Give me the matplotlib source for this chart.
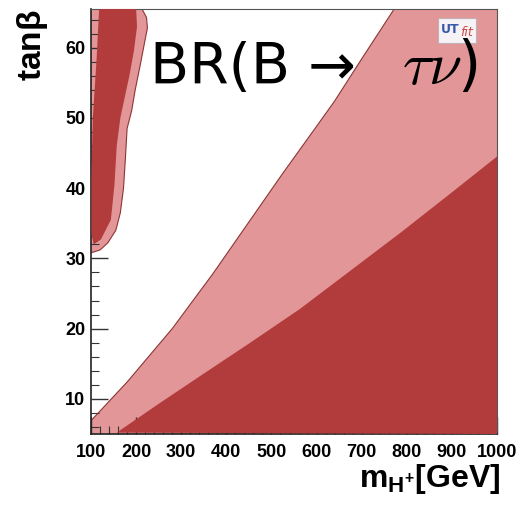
import matplotlib
matplotlib.use("Agg")
import matplotlib.pyplot as plt
from matplotlib.patches import Rectangle

plt.rcParams['mathtext.fontset'] = 'custom'
plt.rcParams['mathtext.rm'] = 'Liberation Sans:bold'
plt.rcParams['mathtext.bf'] = 'Liberation Sans:bold'
plt.rcParams['mathtext.it'] = 'Liberation Sans:bold'

# --- data (m_H+ in GeV, tan beta) ---
x_lim = (100, 1000)
y_lim = (5, 65.5)

# boundary white / light pink (main wedge)
outer_m = [100, 180, 280, 370, 448, 525, 600, 640, 702, 772]
outer_tb = [6.9, 12.4, 20.0, 27.8, 35.0, 42.1, 48.8, 52.4, 58.6, 65.5]

# boundary light pink / dark red (main wedge)
inner_m = [157, 250, 350, 453, 563, 674, 785, 896, 1000]
inner_tb = [5.2, 9.3, 13.6, 18.0, 22.8, 28.2, 33.6, 39.2, 44.5]

# top-left island, light pink outline
blob_out_m = [100, 120, 137, 155, 165, 172, 176, 180, 190, 198, 209, 218, 225, 223, 213, 100]
blob_out_tb = [30.8, 31.2, 32.2, 34.0, 36.5, 40.0, 44.0, 48.5, 51.0, 54.0, 57.5, 60.5, 62.8, 64.3, 65.5, 65.5]

# top-left island, dark red core
blob_in_m = [118, 112, 104, 101, 101, 106, 122, 144, 152, 157, 165, 175, 185, 195, 202, 200]
blob_in_tb = [65.5, 58.0, 50.0, 42.0, 33.5, 32.0, 32.7, 35.5, 40.5, 46.0, 50.0, 53.0, 56.0, 59.5, 63.0, 65.5]

x_ticks = [100, 200, 300, 400, 500, 600, 700, 800, 900, 1000]
y_ticks = [10, 20, 30, 40, 50, 60]

light = '#e39697'
dark = '#b23b3b'
edge = '#8c3535'

fig = plt.figure(figsize=(5.16, 5.09), dpi=100)
ax = fig.add_axes([0.1764, 0.1473, 0.7868, 0.835])

# light pink wedge
lx = outer_m + [x_lim[1], x_lim[1], x_lim[0]]
ly = outer_tb + [y_lim[1], y_lim[0], y_lim[0]]
ax.fill(lx, ly, color=light, lw=0, zorder=1)
ax.plot(outer_m, outer_tb, color=edge, lw=0.8, zorder=2)

# dark red wedge
dx = inner_m + [x_lim[1]]
dy = inner_tb + [y_lim[0]]
ax.fill(dx, dy, color=dark, lw=0, zorder=3)

# island
ax.fill(blob_out_m, blob_out_tb, color=light, lw=0, zorder=1)
ax.plot(blob_out_m[:-1], blob_out_tb[:-1], color=edge, lw=0.8, zorder=2)
ax.fill(blob_in_m, blob_in_tb, color=dark, lw=0, zorder=3)

ax.set_xlim(*x_lim)
ax.set_ylim(*y_lim)
ax.set_xticks(x_ticks)
ax.set_yticks(y_ticks)
ax.set_xticks(range(100, 1001, 20), minor=True)
ax.set_yticks(range(6, 66, 2), minor=True)
ax.tick_params(which='major', direction='in', length=12, width=1, color='#333333',
               labelsize=13, pad=4, top=False, right=False)
ax.tick_params(which='minor', direction='in', length=6, width=0.8, color='#333333',
               top=False, right=False)
ax.tick_params(axis='x', which='major', pad=7)
for lab in ax.get_xticklabels() + ax.get_yticklabels():
    lab.set_fontfamily('Liberation Sans')
    lab.set_fontweight('bold')
for s in ax.spines.values():
    s.set_color('#555555')
    s.set_linewidth(0.8)
for s in ['left', 'bottom']:
    ax.spines[s].set_color('#222222')
    ax.spines[s].set_linewidth(1.2)

fig.text(33 / 516, 1 - 10 / 509, r'tan$\beta$', rotation=90, ha='center', va='top',
         fontsize=24, fontweight='bold', family='Liberation Sans')
fig.text(500 / 516, 1 - 487 / 509, r'm$_{\mathrm{H^{+}}}$[GeV]', ha='right', va='baseline',
         fontsize=23, fontweight='bold', family='Liberation Sans')

# UTfit logo
ax.add_patch(Rectangle((0.855, 0.92), 0.093, 0.058, transform=ax.transAxes,
                       facecolor='#f6f2f6', edgecolor='#c0b0b8', lw=0.8, zorder=5))
ax.text(0.862, 0.951, 'UT', transform=ax.transAxes, color='#3a5aa8', fontsize=9,
        fontweight='bold', va='center', zorder=6)
ax.text(0.908, 0.945, 'fit', transform=ax.transAxes, color='#d04848', fontsize=9,
        style='italic', va='center', zorder=6)

# big title
fig.text(150 / 516, 1 - 84 / 509, 'BR(B \u2192 ', fontsize=41,
         family='DejaVu Sans', va='baseline', ha='left', zorder=10)
fig.text(478 / 516, 1 - 84 / 509, r'$\tau\nu$)', fontsize=43,
         family='DejaVu Sans', math_fontfamily='cm', va='baseline', ha='right', zorder=10)

fig.savefig('out.png', dpi=100)
